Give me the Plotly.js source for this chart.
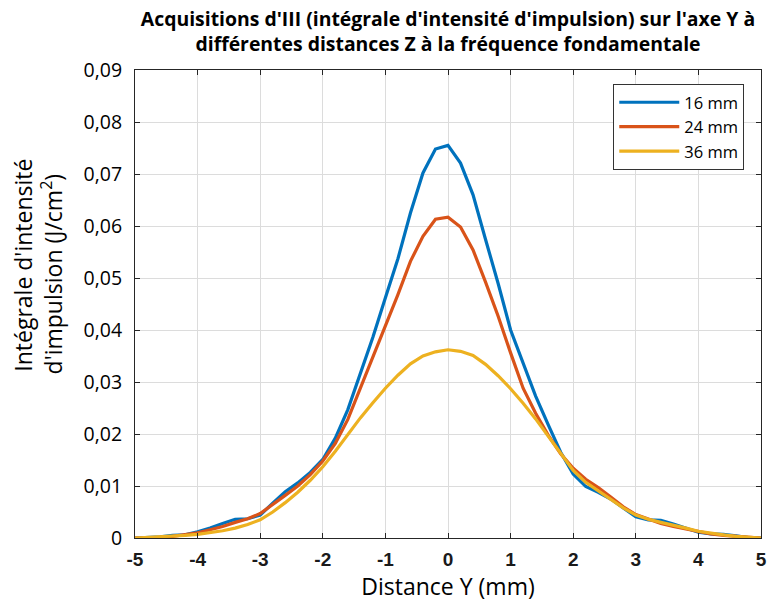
<!DOCTYPE html>
<html>
<head>
<meta charset="utf-8">
<script src="https://cdn.plot.ly/plotly-3.0.1.min.js"></script>
<style>
  html, body { margin: 0; padding: 0; background: #fff; }
  #chart { width: 770px; height: 605px; }
</style>
</head>
<body>
<div id="chart"></div>
<script>
// Distance Y (mm)
const distanceY = [-5.0, -4.8, -4.6, -4.4, -4.2, -4.0, -3.8, -3.6, -3.4, -3.2, -3.0, -2.8, -2.6, -2.4, -2.2, -2.0, -1.8, -1.6, -1.4, -1.2, -1.0, -0.8, -0.6, -0.4, -0.2, 0.0, 0.2, 0.4, 0.6, 0.8, 1.0, 1.2, 1.4, 1.6, 1.8, 2.0, 2.2, 2.4, 2.6, 2.8, 3.0, 3.2, 3.4, 3.6, 3.8, 4.0, 4.2, 4.4, 4.6, 4.8, 5.0];

// Intégrale d'intensité d'impulsion (J/cm²)
const iii16mm = [0.0000, 0.0001, 0.0002, 0.0005, 0.0006, 0.0012, 0.0019, 0.0028, 0.0036, 0.0037, 0.0044, 0.0067, 0.0089, 0.0106, 0.0126, 0.0151, 0.0192, 0.0247, 0.0317, 0.0386, 0.0462, 0.0537, 0.0625, 0.0702, 0.0748, 0.0755, 0.0721, 0.0660, 0.0574, 0.0490, 0.0400, 0.0336, 0.0273, 0.0218, 0.0165, 0.0123, 0.0099, 0.0088, 0.0075, 0.0058, 0.0041, 0.0035, 0.0034, 0.0027, 0.0019, 0.0011, 0.0008, 0.0007, 0.0004, 0.0001, 0.0000];
const iii24mm = [0.0000, 0.0000, 0.0001, 0.0003, 0.0006, 0.0010, 0.0016, 0.0022, 0.0030, 0.0037, 0.0047, 0.0064, 0.0082, 0.0100, 0.0122, 0.0148, 0.0182, 0.0228, 0.0288, 0.0345, 0.0405, 0.0468, 0.0532, 0.0580, 0.0613, 0.0617, 0.0598, 0.0554, 0.0492, 0.0427, 0.0356, 0.0288, 0.0240, 0.0198, 0.0162, 0.0134, 0.0113, 0.0097, 0.0079, 0.0060, 0.0045, 0.0036, 0.0028, 0.0022, 0.0017, 0.0012, 0.0008, 0.0005, 0.0003, 0.0001, 0.0000];
const iii36mm = [0.0000, 0.0001, 0.0002, 0.0003, 0.0005, 0.0007, 0.0010, 0.0014, 0.0019, 0.0026, 0.0035, 0.0050, 0.0068, 0.0088, 0.0111, 0.0137, 0.0167, 0.0200, 0.0231, 0.0260, 0.0288, 0.0313, 0.0335, 0.0350, 0.0358, 0.0362, 0.0359, 0.0351, 0.0334, 0.0312, 0.0287, 0.0259, 0.0229, 0.0196, 0.0163, 0.0130, 0.0107, 0.0091, 0.0075, 0.0058, 0.0044, 0.0036, 0.0030, 0.0025, 0.0019, 0.0013, 0.0009, 0.0006, 0.0003, 0.0001, 0.0000];

const seriesNames = ['16 mm', '24 mm', '36 mm'];
const seriesColors = ['#0072BD', '#D95319', '#EDB120'];

const xTickVals = [-5, -4, -3, -2, -1, 0, 1, 2, 3, 4, 5];
const xTickText = ['-5', '-4', '-3', '-2', '-1', '0', '1', '2', '3', '4', '5'];
const yTickVals = [0, 0.01, 0.02, 0.03, 0.04, 0.05, 0.06, 0.07, 0.08, 0.09];
const yTickText = ['0', '0,01', '0,02', '0,03', '0,04', '0,05', '0,06', '0,07', '0,08', '0,09'];

const seriesValues = [iii16mm, iii24mm, iii36mm];
const traces = seriesValues.map((vals, i) => ({
  type: 'scatter',
  mode: 'lines',
  name: seriesNames[i],
  x: distanceY,
  y: vals,
  line: { color: seriesColors[i], width: 3.2 }
}));

const textFont = 'Open Sans, Noto Sans, sans-serif';
const pad1 = '\u200B' + '\u00A0'.repeat(13);
const pad2 = '\u00A0'.repeat(10);

const layout = {
  width: 770,
  height: 605,
  margin: { l: 135, r: 9, t: 70, b: 67 },
  paper_bgcolor: '#ffffff',
  plot_bgcolor: '#ffffff',
  title: {
    text: "<b>Acquisitions d'III (intégrale d'intensité d'impulsion) sur l'axe Y à<br>différentes distances Z à la fréquence fondamentale</b>",
    font: { family: textFont, size: 19.4, color: '#000' },
    x: 0.5, xref: 'paper', xanchor: 'center',
    y: 1, yref: 'paper', yanchor: 'bottom',
    pad: { b: 44 }
  },
  xaxis: {
    range: [-5, 5],
    tickmode: 'array', tickvals: xTickVals, ticktext: xTickText,
    ticks: 'inside', ticklen: 5, tickwidth: 1, tickcolor: '#262626',
    showline: true, linecolor: '#262626', linewidth: 1, mirror: 'ticks',
    showgrid: true, gridcolor: '#dcdcdc', gridwidth: 1,
    zeroline: false,
    tickfont: { family: 'Liberation Sans, Arial, sans-serif', size: 19, color: '#1a1a1a', weight: 'bold' },
    ticklabelstandoff: 4,
    title: { text: 'Distance Y (mm)', font: { family: textFont, size: 23, color: '#000' }, standoff: 3 }
  },
  yaxis: {
    range: [0, 0.09],
    tickmode: 'array', tickvals: yTickVals, ticktext: yTickText,
    ticks: 'inside', ticklen: 5, tickwidth: 1, tickcolor: '#262626',
    showline: true, linecolor: '#262626', linewidth: 1, mirror: 'ticks',
    showgrid: true, gridcolor: '#dcdcdc', gridwidth: 1,
    zeroline: false,
    tickfont: { family: textFont, size: 19.5, color: '#000' },
    ticklabelstandoff: 8,
    title: { text: pad1 + "Intégrale d'intensité<br>" + pad2 + "d'impulsion (J/cm<sup>2</sup>)", font: { family: textFont, size: 23, color: '#000' }, standoff: 14 }
  },
  legend: {
    x: 0.764, xanchor: 'left', y: 0.97, yanchor: 'top',
    bgcolor: '#ffffff', bordercolor: '#333333', borderwidth: 1,
    font: { family: textFont, size: 16.5, color: '#000' },
    itemwidth: 60,
    tracegroupgap: 0
  },
  showlegend: true
};

Plotly.newPlot('chart', traces, layout, { displayModeBar: false, staticPlot: true });
</script>
</body>
</html>
